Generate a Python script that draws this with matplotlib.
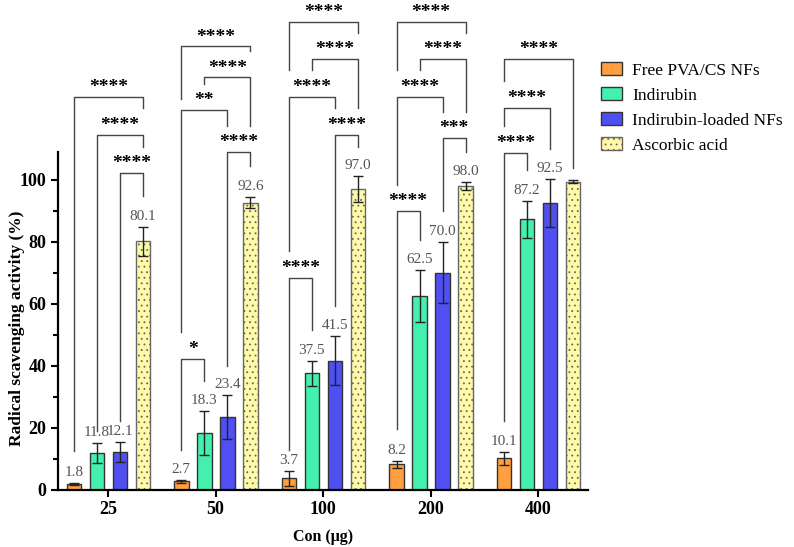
import numpy as np
import matplotlib.pyplot as plt
from matplotlib.patches import Patch

plt.rcParams['font.family'] = ['Liberation Serif', 'DejaVu Serif']
plt.rcParams['hatch.linewidth'] = 0.6

groups = ["25", "50", "100", "200", "400"]
series = ["Free PVA/CS NFs", "Indirubin", "Indirubin-loaded NFs", "Ascorbic acid"]
colors = ["#FF9F3F", "#44F0AE", "#5050F2", "#FFFAA8"]

free_nf = [1.8, 2.7, 3.7, 8.2, 10.1]
indirubin = [11.8, 18.3, 37.5, 62.5, 87.2]
loaded_nf = [12.1, 23.4, 41.5, 70.0, 92.5]
ascorbic = [80.1, 92.6, 97.0, 98.0, 99.4]

free_err = [0.4, 0.5, 2.4, 1.1, 2.1]
indirubin_err = [3.3, 7.0, 4.1, 8.3, 6.0]
loaded_err = [3.2, 7.0, 7.9, 9.9, 7.8]
ascorbic_err = [4.7, 1.8, 4.2, 1.2, 0.6]

show_label = [[True] * 5, [True] * 5, [True] * 5, [True, True, True, True, False]]

# brackets: group, bar a, bar b, top, leg a bottom, leg b bottom, stars
brackets = [
    (0, 2, 3, 102.2, 22.0, 94.6, "****"),
    (0, 1, 3, 114.5, 18.8, 110.7, "****"),
    (0, 0, 3, 126.7, 12.4, 123.1, "****"),
    (1, 0, 1, 42.2, 12.9, 34.9, "*"),
    (1, 0, 2, 122.4, 50.8, 117.4, "**"),
    (1, 2, 3, 109.1, 40.0, 104.3, "****"),
    (1, 1, 3, 133.0, 130.9, 117.4, "****"),
    (1, 0, 3, 143.0, 126.0, 141.4, "****"),
    (2, 0, 1, 68.3, 12.9, 51.6, "****"),
    (2, 0, 2, 126.7, 76.9, 123.1, "****"),
    (2, 2, 3, 114.5, 59.1, 110.7, "****"),
    (2, 1, 3, 139.0, 135.5, 123.1, "****"),
    (2, 0, 3, 151.0, 135.5, 147.5, "****"),
    (3, 0, 1, 89.8, 19.4, 80.6, "****"),
    (3, 0, 2, 126.7, 98.4, 122.0, "****"),
    (3, 2, 3, 113.4, 89.8, 109.1, "***"),
    (3, 1, 3, 139.0, 135.3, 122.0, "****"),
    (3, 0, 3, 151.0, 135.3, 147.5, "****"),
    (4, 0, 1, 108.6, 22.0, 103.2, "****"),
    (4, 0, 2, 123.1, 117.2, 110.0, "****"),
    (4, 0, 3, 139.0, 131.7, 103.8, "****"),
]

values = [free_nf, indirubin, loaded_nf, ascorbic]
errors = [free_err, indirubin_err, loaded_err, ascorbic_err]

fig = plt.figure(figsize=(7.94, 5.47), dpi=100)
ax = fig.add_axes([0.073, 0.105, 0.668, 0.895])

x = np.arange(len(groups))
offsets = np.array([-0.318, -0.104, 0.11, 0.324])
width = 0.133

for k in range(4):
    hatch = "..." if k == 3 else None
    edge = "#666666" if k == 3 else "#333333"
    ax.bar(x + offsets[k], values[k], width, color=colors[k], edgecolor=edge,
           linewidth=1.0, hatch=hatch, zorder=2)
    ax.errorbar(x + offsets[k], values[k], yerr=errors[k], fmt="none",
                ecolor="#222222", elinewidth=1.0, capsize=3.5, capthick=1.0, zorder=3)
    for i in range(len(groups)):
        if show_label[k][i]:
            ax.text(x[i] + offsets[k], values[k][i] + errors[k][i] + 1.3,
                    f"{values[k][i]:.1f}", ha="center", va="bottom",
                    fontsize=11, color="#555555")

for g, a, b, top, ya, yb, stars in brackets:
    xa = x[g] + offsets[a]
    xb = x[g] + offsets[b]
    ax.plot([xa, xa, xb, xb], [ya, top, top, yb], color="#444444", lw=1.0,
            clip_on=False, zorder=1)
    ax.text((xa + xb) / 2, top + 0.3, stars, ha="center", va="bottom",
            fontsize=14, fontweight="bold")

ax.set_xlim(-0.465, 4.465)
ax.set_ylim(0, 158)
ax.set_xticks(x)
ax.set_xticklabels(groups, fontsize=13, fontweight="bold")
ax.set_yticks([0, 20, 40, 60, 80, 100])
ax.set_yticks([10, 30, 50, 70, 90], minor=True)
ax.set_yticklabels(["0", "20", "40", "60", "80", "100"], fontsize=13, fontweight="bold")
ax.tick_params(axis="both", which="major", width=1.5, length=5)
ax.tick_params(axis="y", which="minor", width=1.5, length=3.5)
ax.tick_params(axis="x", which="minor", length=0)

for s in ["top", "right"]:
    ax.spines[s].set_visible(False)
ax.spines["left"].set_linewidth(1.6)
ax.spines["bottom"].set_linewidth(1.6)
ax.spines["left"].set_bounds(0, 109)

ax.set_xlabel("Con (μg)", fontsize=11.5, fontweight="bold", labelpad=8)
ax.set_ylabel("Radical scavenging activity (%)", fontsize=12.5, fontweight="bold")
ax.yaxis.set_label_coords(-0.063, 0.33)

handles = [Patch(facecolor=colors[k], edgecolor="#666666" if k == 3 else "#333333",
                 hatch="..." if k == 3 else None, linewidth=1.0) for k in range(4)]
fig.legend(handles, series, loc="upper left", bbox_to_anchor=(0.737, 0.915),
           frameon=False, fontsize=12.5, handlelength=1.2, handleheight=0.75,
           labelspacing=0.5, handletextpad=0.6)

fig.savefig("out.png", dpi=100)
